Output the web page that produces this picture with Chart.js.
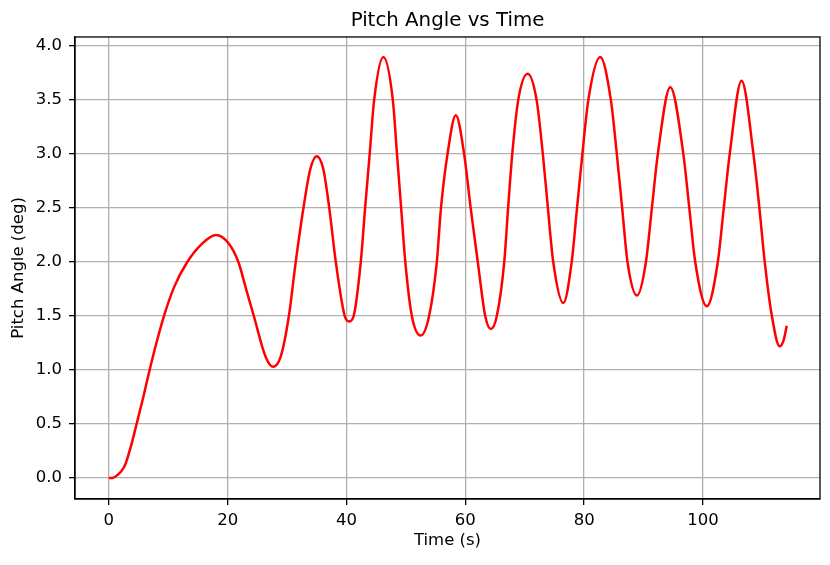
<!DOCTYPE html>
<html>
<head>
<meta charset="utf-8">
<title>Pitch Angle vs Time</title>
<script src="https://cdn.jsdelivr.net/npm/chart.js"></script>
<style>
    html, body { margin: 0; padding: 0; background: #fff; }
</style>
</head>
<body>
<canvas id="pitchChart" width="830" height="565"></canvas>

<script>
    // values (extremes + grid-line crossings)
    const timeValues = [
        0, 0.6, 1.5, 2.2, 2.8, 3.7, 4.67, 5.8, 6.86, 8.0, 9.27, 11.0, 13.2, 15.7, 18.0,
        20.2, 21.8, 23.1, 24.4, 26.4, 27.6, 28.9, 30.3, 31.45, 32.75, 33.9, 35.0,
        36.1, 37.1, 38.2, 39.7, 40.45, 41.2, 42.4, 43.13, 43.9, 44.65, 46.2,
        47.8, 48.5, 49.2, 49.9, 51.0, 52.5, 53.9, 55.2, 55.9, 57.0, 58.4,
        59.8, 60.9, 62.1, 63.35, 64.3, 65.3, 66.55, 67.2, 67.9, 68.9, 70.5,
        72.0, 73.05, 73.9, 74.8, 76.5, 77.9, 78.8, 79.7, 80.7, 82.7,
        84.5, 85.5, 86.4, 87.3, 88.9, 90.4, 91.4, 92.4, 94.5,
        96.7, 97.7, 98.7, 100.65, 102.5, 103.5, 104.5, 106.5,
        108.5, 109.5, 110.4, 111.6, 112.9, 113.6, 114.1
    ];
    const pitchValues = [
        0.00, 0.00, 0.03, 0.07, 0.13, 0.29, 0.50, 0.75, 1.00, 1.25, 1.50, 1.77, 2.00, 2.17, 2.25,
        2.17, 2.00, 1.75, 1.50, 1.12, 1.03, 1.12, 1.50, 2.00, 2.50, 2.86, 2.98,
        2.86, 2.50, 2.00, 1.50, 1.45, 1.50, 2.00, 2.50, 3.00, 3.50, 3.90,
        3.50, 3.00, 2.50, 2.00, 1.50, 1.32, 1.50, 2.00, 2.50, 3.00, 3.36,
        3.00, 2.50, 2.00, 1.50, 1.38, 1.50, 2.00, 2.50, 3.00, 3.50, 3.745,
        3.50, 3.00, 2.50, 2.00, 1.62, 2.00, 2.50, 3.00, 3.50, 3.90,
        3.50, 3.00, 2.50, 2.00, 1.69, 2.00, 2.50, 3.00, 3.62,
        3.00, 2.50, 2.00, 1.59, 2.00, 2.50, 3.00, 3.68,
        3.00, 2.50, 2.00, 1.50, 1.22, 1.28, 1.41
    ];
    const xTicks = [0, 20, 40, 60, 80, 100];
    const yTicks = [0, 0.5, 1.0, 1.5, 2.0, 2.5, 3.0, 3.5, 4.0];

    Chart.defaults.font.family = "'DejaVu Sans', sans-serif";
    Chart.defaults.color = '#000';

    const tickFont = { size: 16.5 };

    // matplotlib style box around the axes
    const spines = {
        id: 'spines',
        afterDraw(chart) {
            const a = chart.chartArea;
            const ctx = chart.ctx;
            ctx.save();
            ctx.strokeStyle = '#000';
            ctx.lineWidth = 1.3;
            ctx.strokeRect(a.left, a.top, a.right - a.left, a.bottom - a.top);
            ctx.restore();
        }
    };

    new Chart(document.getElementById('pitchChart').getContext('2d'), {
        type: 'line',
        data: {
            datasets: [{
                label: 'Pitch Angle',
                data: timeValues.map((t, i) => ({ x: t, y: pitchValues[i] })),
                borderColor: '#ff0000',
                borderWidth: 2.5,
                pointRadius: 0,
                fill: false,
                cubicInterpolationMode: 'monotone'
            }]
        },
        options: {
            responsive: false,
            animation: false,
            layout: { padding: { top: 0, right: 10, bottom: 0, left: 0 } },
            plugins: {
                legend: { display: false },
                tooltip: { enabled: false },
                title: {
                    display: true,
                    text: 'Pitch Angle vs Time',
                    fullSize: false,
                    color: '#000',
                    font: { size: 19.8, weight: 'normal' },
                    padding: { top: 9, bottom: 4.2 }
                }
            },
            scales: {
                x: {
                    type: 'linear',
                    min: -5.7,
                    max: 119.7,
                    afterBuildTicks: s => { s.ticks = xTicks.map(v => ({ value: v })); },
                    afterFit: s => { s.height = 66; },
                    ticks: { font: tickFont, padding: 6, maxRotation: 0, autoSkip: false },
                    grid: { color: '#b0b0b0', lineWidth: 1.3, tickColor: '#000', tickLength: 6, tickWidth: 1.3 },
                    border: { color: '#000', width: 1.3 },
                    title: { display: true, text: 'Time (s)', font: tickFont, padding: { top: 0, bottom: 14 } }
                },
                y: {
                    min: -0.195,
                    max: 4.085,
                    afterBuildTicks: s => { s.ticks = yTicks.map(v => ({ value: v })); },
                    afterFit: s => { s.width = 75; },
                    ticks: { font: tickFont, padding: 7, callback: v => v.toFixed(1) },
                    grid: { color: '#b0b0b0', lineWidth: 1.3, tickColor: '#000', tickLength: 6, tickWidth: 1.3 },
                    border: { color: '#000', width: 1.3 },
                    title: { display: true, text: 'Pitch Angle (deg)', font: tickFont, padding: { top: 9, bottom: 0 } }
                }
            }
        },
        plugins: [spines]
    });
</script>
</body>
</html>
